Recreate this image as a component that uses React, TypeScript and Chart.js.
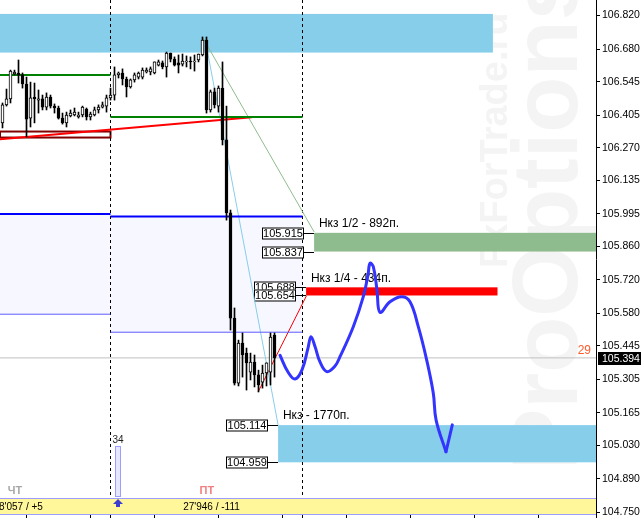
import React, { useEffect, useRef } from "react";
import { Chart, registerables } from "chart.js";

Chart.register(...registerables);

// ---------- candle data (bar index = position) ----------
const opens = [106.373, 106.448, 106.473, 106.577, 106.581, 106.573, 106.535, 106.393, 106.481, 106.468,
  106.473, 106.439, 106.481, 106.443, 106.435, 106.393, 106.373, 106.402, 106.406, 106.398,
  106.406, 106.431, 106.398, 106.406, 106.427, 106.439, 106.443, 106.477, 106.489, 106.573,
  106.581, 106.556, 106.523, 106.552, 106.564, 106.564, 106.585, 106.585, 106.581, 106.614,
  106.623, 106.606, 106.664, 106.639, 106.623, 106.618, 106.627, 106.631, 106.627, 106.635,
  106.656, 106.718, 106.427, 106.502, 106.443, 106.518, 106.302, 105.998, 105.560, 105.289,
  105.456, 105.414, 105.335, 105.377, 105.323, 105.293, 105.331, 105.335, 105.489];
const highs = [106.456, 106.514, 106.593, 106.593, 106.635, 106.581, 106.564, 106.543, 106.539, 106.510,
  106.489, 106.498, 106.489, 106.452, 106.443, 106.414, 106.418, 106.427, 106.435, 106.418,
  106.443, 106.435, 106.418, 106.439, 106.448, 106.460, 106.489, 106.518, 106.606, 106.585,
  106.598, 106.564, 106.556, 106.581, 106.585, 106.602, 106.602, 106.606, 106.627, 106.635,
  106.631, 106.668, 106.664, 106.648, 106.656, 106.660, 106.652, 106.648, 106.656, 106.660,
  106.731, 106.731, 106.510, 106.518, 106.527, 106.627, 106.443, 106.010, 105.602, 105.468,
  105.498, 105.435, 105.414, 105.406, 105.343, 105.364, 105.373, 105.498, 105.498];
const lows = [106.352, 106.443, 106.456, 106.573, 106.539, 106.518, 106.314, 106.356, 106.373, 106.414,
  106.427, 106.427, 106.435, 106.414, 106.389, 106.368, 106.356, 106.398, 106.402, 106.393,
  106.398, 106.385, 106.385, 106.402, 106.414, 106.435, 106.418, 106.468, 106.468, 106.560,
  106.531, 106.481, 106.518, 106.543, 106.556, 106.556, 106.581, 106.573, 106.577, 106.610,
  106.598, 106.564, 106.627, 106.610, 106.581, 106.610, 106.606, 106.598, 106.589, 106.627,
  106.652, 106.414, 106.418, 106.435, 106.418, 106.281, 105.968, 105.510, 105.281, 105.277,
  105.314, 105.260, 105.302, 105.273, 105.252, 105.268, 105.277, 105.281, 105.314];
const closes = [106.448, 106.473, 106.589, 106.585, 106.573, 106.535, 106.389, 106.477, 106.473, 106.473,
  106.439, 106.481, 106.443, 106.435, 106.393, 106.373, 106.406, 106.414, 106.418, 106.406,
  106.439, 106.398, 106.410, 106.427, 106.439, 106.448, 106.477, 106.489, 106.573, 106.581,
  106.556, 106.523, 106.552, 106.573, 106.581, 106.593, 106.593, 106.598, 106.627, 106.627,
  106.606, 106.664, 106.639, 106.614, 106.614, 106.631, 106.631, 106.627, 106.631, 106.660,
  106.718, 106.427, 106.502, 106.448, 106.518, 106.302, 105.998, 105.560, 105.289, 105.456,
  105.406, 105.373, 105.377, 105.323, 105.281, 105.331, 105.373, 105.481, 105.394];

// ---------- axes ----------
const yTicks = [106.82, 106.68, 106.545, 106.405, 106.27, 106.135, 105.995, 105.86, 105.72, 105.58,
  105.445, 105.305, 105.165, 105.03, 104.89, 104.75];
const xMin = -0.625;
const xMax = 148.375;
const yMin = 104.727;
const yMax = 106.885;
const currentPrice = 105.394;
const spreadLabel = "29";
const separators = [27, 75];
const bottomTicks = [6, 22, 38, 54, 70, 86, 102, 118, 134];

// ---------- levels ----------
const levelBars = [xMin, 27, 75];
const thickBlue = [105.993, 105.983];
const thinBlue = [105.576, 105.501];
const greenLevel = [106.573, 106.398];

// ---------- trend lines ----------
const redTrendX = [xMin, 62.3];
const redTrendY = [106.305, 106.397];
const greenFanX = [50.1, 77.9];
const greenFanY = [106.727, 105.919];
const blueFanX = [50.6, 68.9];
const blueFanY = [106.727, 105.115];
const redFanX = [63.9, 76.0];
const redFanY = [105.252, 105.653];

// ---------- zones [x0, x1, top, bottom] ----------
const topZone = [xMin, 122.6, 106.827, 106.666];
const tpGreen = [77.9, xMax, 105.915, 105.837];
const tpRed = [75.9, 123.75, 105.688, 105.654];
const tpBlue = [68.9, xMax, 105.114, 104.959];
const boxOutline = [xMin, 27, 106.337, 106.312];

// ---------- price tags ----------
const tagValues = [105.915, 105.837, 105.688, 105.654, 105.114, 104.959];
const tagAnchors = [77.9, 77.9, 75.9, 75.9, 68.9, 68.9];

// ---------- target labels ----------
const tpLabels = ["Нкз 1/2 - 892п.", "Нкз 1/4 - 434п.", "Нкз - 1770п."];
const tpLabelBars = [79.1, 77.1, 70.1];
const tpLabelPrices = [105.940, 105.710, 105.140];

// ---------- hand-drawn forecast ----------
const pathBars = [69.375, 71.375, 73.125, 74.875, 76.375, 77.125, 78.125, 79.375, 81.05, 83.125, 84.375,
  87.7, 90.2, 91.375, 91.875, 92.7, 93.625, 94.375, 96.875, 99.8, 101.875, 103.95, 106.05, 107.7, 108.4, 110.875];
const pathPrices = [105.405, 105.335, 105.306, 105.344, 105.435, 105.482, 105.441, 105.377, 105.337, 105.360,
  105.399, 105.524, 105.649, 105.740, 105.788, 105.774, 105.677, 105.584, 105.628, 105.649, 105.628, 105.524,
  105.385, 105.247, 105.135, 105.003];
const arrowBars = [110.875, 112.45];
const arrowPrices = [105.003, 105.115];

// ---------- bottom panel ----------
const dayNames = ["ЧТ", "ПТ"];
const dayBars = [3.1, 51.1];
const dayColors = ["#a8a8a8", "#f08080"];
const panelTexts = ["28'057 / +5", "27'946 / -111"];
const panelBars = [10.1, 52.25];
const volumeBar = 28.9;
const volumeValue = 34;

const FONT = '"Liberation Sans", Arial, sans-serif';

const seg = (xs: number[], ys: number[], color: string, width: number, order = 3) => ({
  type: "line" as const,
  data: xs.map((x, i) => ({ x, y: ys[i] })),
  borderColor: color,
  borderWidth: width,
  pointRadius: 0,
  tension: 0,
  fill: false,
  order,
});

const annotations = {
  id: "annotations",
  beforeDatasetsDraw(chart: any) {
    const { ctx, chartArea: ca } = chart;
    const X = (v: number) => chart.scales.x.getPixelForValue(v);
    const Y = (v: number) => chart.scales.y.getPixelForValue(v);
    ctx.save();
    ctx.beginPath();
    ctx.rect(ca.left, ca.top, ca.right - ca.left, ca.bottom - ca.top);
    ctx.clip();

    // watermarks
    ctx.fillStyle = "#f4f4f4";
    ctx.textAlign = "left";
    ctx.textBaseline = "alphabetic";
    ctx.save();
    ctx.translate(ca.right - 19, 470);
    ctx.rotate(-Math.PI / 2);
    ctx.font = `bold 92px ${FONT}`;
    ctx.fillText("ProOptions", 0, 0);
    ctx.restore();
    ctx.save();
    ctx.translate(ca.right - 89, 268);
    ctx.rotate(-Math.PI / 2);
    ctx.font = `bold 38px ${FONT}`;
    ctx.fillText("FxForTrade.ru", 0, 0);
    ctx.restore();

    const fillZone = (z: number[], color: string) => {
      ctx.fillStyle = color;
      ctx.fillRect(X(z[0]), Y(z[2]), X(z[1]) - X(z[0]), Y(z[3]) - Y(z[2]));
    };
    // lavender channel fills
    fillZone([levelBars[0], levelBars[1], thickBlue[0], thinBlue[0]], "#f7f7ff");
    fillZone([levelBars[1], levelBars[2], thickBlue[1], thinBlue[1]], "#f7f7ff");
    // zones
    fillZone(topZone, "#87ceeb");
    fillZone(tpBlue, "#87ceeb");
    fillZone(tpGreen, "#8fbc8f");
    fillZone(tpRed, "#ff0000");

    // outline box
    ctx.strokeStyle = "#800000";
    ctx.lineWidth = 2;
    ctx.strokeRect(X(boxOutline[0]), Y(boxOutline[2]), X(boxOutline[1]) - X(boxOutline[0]), Y(boxOutline[3]) - Y(boxOutline[2]));

    // separators
    ctx.strokeStyle = "#000";
    ctx.lineWidth = 1;
    ctx.setLineDash([3, 3]);
    separators.forEach((s) => {
      const px = Math.round(X(s) - 0.5) + 0.5;
      ctx.beginPath();
      ctx.moveTo(px, ca.top);
      ctx.lineTo(px, ca.bottom);
      ctx.stroke();
    });
    ctx.setLineDash([]);

    // target labels
    ctx.fillStyle = "#000";
    ctx.font = `12px ${FONT}`;
    ctx.textAlign = "left";
    tpLabels.forEach((t, i) => ctx.fillText(t, X(tpLabelBars[i]), Y(tpLabelPrices[i])));

    // price tags
    ctx.font = `11px ${FONT}`;
    ctx.textAlign = "center";
    ctx.textBaseline = "middle";
    tagValues.forEach((v, i) => {
      const right = Math.round(X(tagAnchors[i])) - 10;
      const cy = Math.round(Y(v));
      const w = 42, h = 11;
      ctx.fillStyle = "#fff";
      ctx.fillRect(right - w, cy - h / 2, w, h);
      ctx.strokeStyle = "#000";
      ctx.strokeRect(right - w + 0.5, cy - h / 2 + 0.5, w - 1, h);
      ctx.fillStyle = "#000";
      ctx.fillText(v.toFixed(3), right - w / 2, cy + 1);
      ctx.beginPath();
      ctx.moveTo(right, cy + 0.5);
      ctx.lineTo(Math.round(X(tagAnchors[i])), cy + 0.5);
      ctx.stroke();
    });
    ctx.restore();
  },
  afterDatasetsDraw(chart: any) {
    const { ctx, chartArea: ca } = chart;
    const X = (v: number) => chart.scales.x.getPixelForValue(v);
    const Y = (v: number) => chart.scales.y.getPixelForValue(v);
    ctx.save();
    // bottom panel band
    const bandTop = ca.bottom - 20;
    const bandBottom = ca.bottom - 4;
    ctx.fillStyle = "#fff799";
    ctx.fillRect(ca.left, bandTop, ca.right - ca.left, bandBottom - bandTop);
    ctx.strokeStyle = "#9d9dff";
    ctx.lineWidth = 1;
    ctx.beginPath();
    ctx.moveTo(ca.left, bandTop + 0.5);
    ctx.lineTo(ca.right, bandTop + 0.5);
    ctx.moveTo(ca.left, bandBottom + 0.5);
    ctx.lineTo(ca.right, bandBottom + 0.5);
    ctx.stroke();
    // separators through band
    ctx.strokeStyle = "#000";
    ctx.setLineDash([3, 3]);
    separators.forEach((s) => {
      const px = Math.round(X(s) - 0.5) + 0.5;
      ctx.beginPath();
      ctx.moveTo(px, bandBottom + 1);
      ctx.lineTo(px, ca.bottom);
      ctx.stroke();
    });
    ctx.setLineDash([]);
    // bottom ticks
    bottomTicks.forEach((b) => {
      const px = Math.round(X(b) - 0.5) + 0.5;
      ctx.beginPath();
      ctx.moveTo(px, ca.bottom - 3);
      ctx.lineTo(px, ca.bottom);
      ctx.stroke();
    });
    // panel texts
    ctx.fillStyle = "#000";
    ctx.font = `10px ${FONT}`;
    ctx.textBaseline = "alphabetic";
    ctx.textAlign = "right";
    ctx.fillText(panelTexts[0], X(panelBars[0]), bandBottom - 4);
    ctx.textAlign = "center";
    ctx.fillText(panelTexts[1], X(panelBars[1]), bandBottom - 4);
    // day names
    ctx.font = `bold 11px ${FONT}`;
    dayNames.forEach((d, i) => {
      ctx.fillStyle = dayColors[i];
      ctx.fillText(d, X(dayBars[i]), bandTop - 4);
    });
    // volume bar
    const vx = Math.round(X(volumeBar));
    ctx.fillStyle = "#e6e6ff";
    ctx.fillRect(vx - 3, bandTop - 52, 6, 51);
    ctx.strokeStyle = "#9d9dff";
    ctx.strokeRect(vx - 2.5, bandTop - 51.5, 5, 50);
    ctx.fillStyle = "#222";
    ctx.font = `10px ${FONT}`;
    ctx.fillText(String(volumeValue), vx, bandTop - 55);
    // arrow up
    ctx.fillStyle = "#3d3dd0";
    ctx.beginPath();
    ctx.moveTo(vx - 5, bandTop + 6);
    ctx.lineTo(vx, bandTop + 1);
    ctx.lineTo(vx + 5, bandTop + 6);
    ctx.closePath();
    ctx.fill();
    ctx.fillRect(vx - 2, bandTop + 6, 4, 3);
    // spread label
    ctx.fillStyle = "#ff5a2a";
    ctx.font = `12px ${FONT}`;
    ctx.textAlign = "right";
    ctx.fillText(spreadLabel, ca.right - 5, Y(currentPrice) - 4);
    // current price tag
    const cy = Math.round(Y(currentPrice));
    ctx.fillStyle = "#000";
    ctx.fillRect(ca.right + 2, cy - 6, 43, 13);
    ctx.fillStyle = "#fff";
    ctx.font = `10.5px ${FONT}`;
    ctx.textAlign = "left";
    ctx.textBaseline = "middle";
    ctx.fillText(currentPrice.toFixed(3), ca.right + 6, cy + 1);
    ctx.restore();
  },
};

export default function App() {
  const ref = useRef<HTMLCanvasElement>(null);
  useEffect(() => {
    const wickData = opens.map((_, i) => ({ x: i, y: [lows[i], highs[i]] }));
    const bodyData = opens.map((o, i) => ({ x: i, y: [o, closes[i]] }));
    const bodyColors = opens.map((o, i) => (closes[i] >= o ? "#ffffff" : "#000000"));
    const chart = new Chart(ref.current as HTMLCanvasElement, {
      type: "bar",
      data: {
        datasets: [
          {
            type: "line",
            data: pathBars.map((x, i) => ({ x, y: pathPrices[i] })),
            borderColor: "#3434ff",
            borderWidth: 3,
            pointRadius: 0,
            tension: 0.4,
            fill: false,
            borderCapStyle: "round",
            borderJoinStyle: "round",
            order: 0,
          },
          { ...seg(arrowBars, arrowPrices, "#3434ff", 3, 0), borderCapStyle: "round" },
          {
            type: "bar",
            data: bodyData,
            backgroundColor: bodyColors,
            borderColor: "#000",
            borderWidth: 1,
            borderSkipped: false,
            barThickness: 3,
            grouped: false,
            order: 1,
          },
          {
            type: "bar",
            data: wickData,
            backgroundColor: "#000",
            borderWidth: 0,
            barThickness: 1,
            grouped: false,
            order: 2,
          },
          seg([levelBars[0], levelBars[1]], [thickBlue[0], thickBlue[0]], "#0000ff", 2),
          seg([levelBars[1], levelBars[2]], [thickBlue[1], thickBlue[1]], "#0000ff", 2),
          seg([levelBars[0], levelBars[1]], [thinBlue[0], thinBlue[0]], "#5c5cff", 1),
          seg([levelBars[1], levelBars[2]], [thinBlue[1], thinBlue[1]], "#5c5cff", 1),
          seg([levelBars[0], levelBars[1]], [greenLevel[0], greenLevel[0]], "#008000", 2),
          seg([levelBars[1], levelBars[2]], [greenLevel[1], greenLevel[1]], "#008000", 2),
          seg(redTrendX, redTrendY, "#ff0000", 2),
          seg(greenFanX, greenFanY, "#8fbc8f", 1),
          seg(blueFanX, blueFanY, "#87ceeb", 1),
          seg(redFanX, redFanY, "#ff0000", 1),
          seg([xMin, xMax], [currentPrice, currentPrice], "#c0c0c0", 1, 4),
        ] as any,
      },
      options: {
        animation: false,
        responsive: false,
        devicePixelRatio: 1,
        events: [],
        layout: { padding: 0 },
        plugins: { legend: { display: false }, tooltip: { enabled: false } },
        scales: {
          x: { type: "linear", min: xMin, max: xMax, display: false, offset: false },
          y: {
            type: "linear",
            position: "right",
            min: yMin,
            max: yMax,
            afterBuildTicks: (s: any) => {
              s.ticks = yTicks.map((v) => ({ value: v }));
            },
            afterFit: (s: any) => {
              s.width = 45;
              s.paddingTop = 0;
              s.paddingBottom = 0;
            },
            ticks: {
              autoSkip: false,
              callback: (v: any) => Number(v).toFixed(3),
              font: { family: "Liberation Sans", size: 10.5 },
              color: "#000",
              padding: 2,
            },
            grid: { drawOnChartArea: false, tickLength: 4, color: "#000" },
            border: { display: true, color: "#000", width: 1 },
          },
        },
      } as any,
      plugins: [annotations],
    });
    return () => chart.destroy();
  }, []);
  return (
    <div style={{ position: "fixed", left: 0, top: 0, width: 641, height: 518, background: "#fff" }}>
      <canvas ref={ref} width={641} height={518} style={{ display: "block", width: 641, height: 518 }} />
    </div>
  );
}
